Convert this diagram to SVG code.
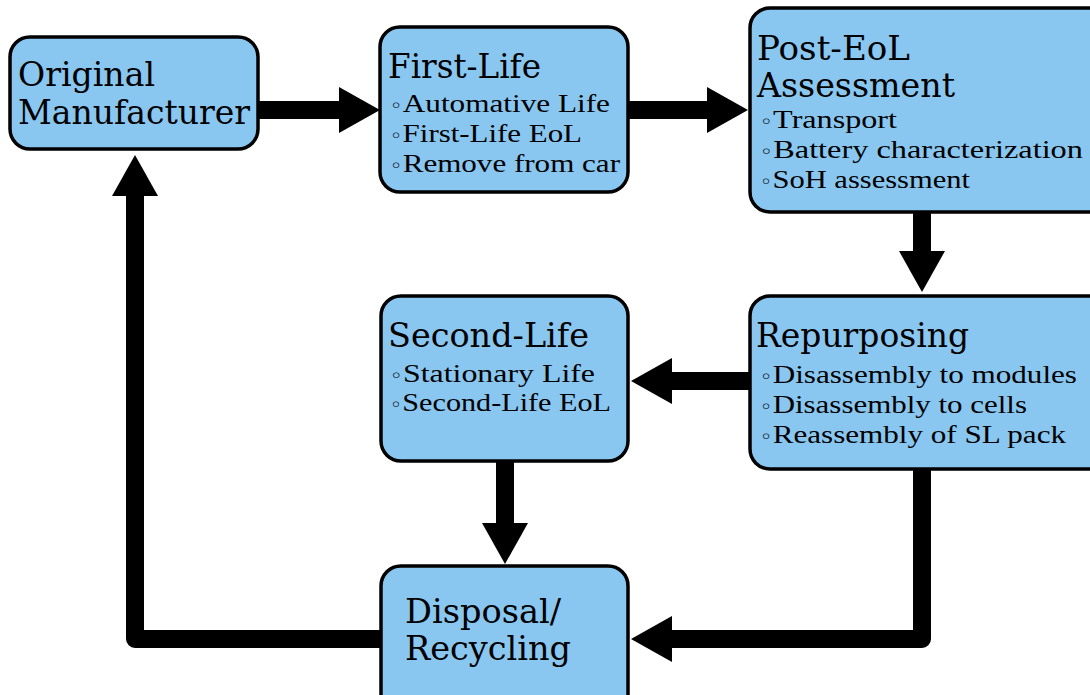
<svg xmlns="http://www.w3.org/2000/svg" width="1090" height="695" viewBox="0 0 1090 695">
<defs>
<style>
.node{fill:#89C7F1;stroke:#000;stroke-width:3.5}
.t{font-family:"DejaVu Serif","Liberation Serif",serif;font-size:33px;fill:#000}
.i{font-family:"Liberation Serif","Times New Roman",serif;font-size:26px;fill:#000}
.b{font-family:"DejaVu Sans",sans-serif;font-size:18px}
.c{fill:none;stroke:#000;stroke-width:18;stroke-linejoin:round}
</style>
<marker id="ah" markerUnits="userSpaceOnUse" markerWidth="42" markerHeight="46" refX="0" refY="23" orient="auto">
<path d="M0,0 L41,23 L0,46 z" fill="#000"/>
</marker>
</defs>
<rect width="1090" height="695" fill="#fff"/>
<g id="connectors">
<line class="c" x1="258" y1="110" x2="339" y2="110" marker-end="url(#ah)"/>
<line class="c" x1="628" y1="110" x2="707" y2="110" marker-end="url(#ah)"/>
<line class="c" x1="922" y1="212" x2="922" y2="251" marker-end="url(#ah)"/>
<line class="c" x1="750" y1="381" x2="672" y2="381" marker-end="url(#ah)"/>
<line class="c" x1="505" y1="461" x2="505" y2="523" marker-end="url(#ah)"/>
<polyline class="c" points="922,469 922,639 672,639" marker-end="url(#ah)"/>
<polyline class="c" points="381,639 135,639 135,196" marker-end="url(#ah)"/>
</g>
<g id="original-manufacturer">
<rect class="node" x="10" y="37" width="248" height="112" rx="20"/>
<text class="t" x="18" y="86" textLength="137" lengthAdjust="spacingAndGlyphs">Original</text>
<text class="t" x="18" y="124" textLength="232" lengthAdjust="spacingAndGlyphs">Manufacturer</text>
</g>
<g id="first-life">
<rect class="node" x="380" y="27" width="248" height="165" rx="20"/>
<text class="t" x="388" y="78" textLength="153" lengthAdjust="spacingAndGlyphs">First-Life</text>
<text class="i" x="390" y="112" textLength="220" lengthAdjust="spacingAndGlyphs"><tspan class="b">◦</tspan>Automative Life</text>
<text class="i" x="390" y="142" textLength="192" lengthAdjust="spacingAndGlyphs"><tspan class="b">◦</tspan>First-Life EoL</text>
<text class="i" x="390" y="172" textLength="230" lengthAdjust="spacingAndGlyphs"><tspan class="b">◦</tspan>Remove from car</text>
</g>
<g id="post-eol-assessment">
<rect class="node" x="750" y="8" width="360" height="204" rx="20"/>
<text class="t" x="757" y="60" textLength="153" lengthAdjust="spacingAndGlyphs">Post-EoL</text>
<text class="t" x="757" y="97" textLength="198" lengthAdjust="spacingAndGlyphs">Assessment</text>
<text class="i" x="760" y="128" textLength="137" lengthAdjust="spacingAndGlyphs"><tspan class="b">◦</tspan>Transport</text>
<text class="i" x="760" y="158" textLength="323" lengthAdjust="spacingAndGlyphs"><tspan class="b">◦</tspan>Battery characterization</text>
<text class="i" x="760" y="188" textLength="210" lengthAdjust="spacingAndGlyphs"><tspan class="b">◦</tspan>SoH assessment</text>
</g>
<g id="second-life">
<rect class="node" x="381" y="296" width="247" height="165" rx="20"/>
<text class="t" x="388" y="347" textLength="201" lengthAdjust="spacingAndGlyphs">Second-Life</text>
<text class="i" x="390" y="382" textLength="205" lengthAdjust="spacingAndGlyphs"><tspan class="b">◦</tspan>Stationary Life</text>
<text class="i" x="390" y="411" textLength="221" lengthAdjust="spacingAndGlyphs"><tspan class="b">◦</tspan>Second-Life EoL</text>
</g>
<g id="repurposing">
<rect class="node" x="750" y="296" width="360" height="173" rx="20"/>
<text class="t" x="756" y="347" textLength="213" lengthAdjust="spacingAndGlyphs">Repurposing</text>
<text class="i" x="760" y="383" textLength="317" lengthAdjust="spacingAndGlyphs"><tspan class="b">◦</tspan>Disassembly to modules</text>
<text class="i" x="760" y="413" textLength="267" lengthAdjust="spacingAndGlyphs"><tspan class="b">◦</tspan>Disassembly to cells</text>
<text class="i" x="760" y="443" textLength="306" lengthAdjust="spacingAndGlyphs"><tspan class="b">◦</tspan>Reassembly of SL pack</text>
</g>
<g id="disposal-recycling">
<rect class="node" x="381" y="566" width="247" height="150" rx="20"/>
<text class="t" x="405" y="623" textLength="156" lengthAdjust="spacingAndGlyphs">Disposal/</text>
<text class="t" x="405" y="660" textLength="166" lengthAdjust="spacingAndGlyphs">Recycling</text>
</g>
</svg>
